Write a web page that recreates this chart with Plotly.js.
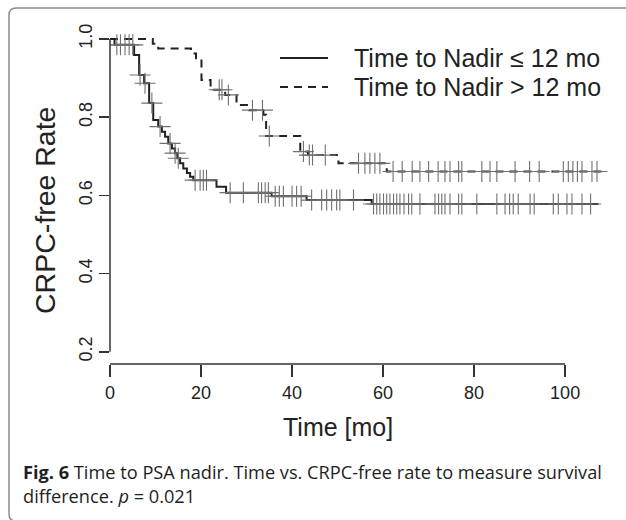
<!DOCTYPE html>
<html>
<head>
<meta charset="utf-8">
<script src="https://cdn.plot.ly/plotly-3.0.1.min.js"></script>
<style>
html,body{margin:0;padding:0;background:#fff;}
#chart{width:626px;height:520px;}
</style>
</head>
<body>
<div id="chart"></div>
<script>
// ---- Data ----
const groupNames = ["Time to Nadir \u2264 12 mo", "Time to Nadir > 12 mo"];

// Group 1: Time to Nadir <= 12 mo (solid)
const earlyEventTimes = [1.0, 5.3, 6.4, 7.5, 8.6, 9.5, 10.6, 11.4, 12.1, 12.8, 13.6, 14.3, 14.8, 15.4, 16.1, 16.9, 17.6, 18.3, 23.4, 25.5, 35.5, 43.2, 57.5];
const earlySurvival   = [0.985, 0.959, 0.908, 0.887, 0.836, 0.793, 0.776, 0.763, 0.750, 0.733, 0.720, 0.708, 0.695, 0.682, 0.669, 0.657, 0.648, 0.639, 0.622, 0.607, 0.598, 0.588, 0.578];
const earlyLastTime = 107.3;
const earlyCensored = [1.5, 2.3, 3.3, 4.2, 5.0, 6.6, 7.7, 9.2, 11.0, 13.2, 14.3, 15.0, 18.7, 19.8, 20.5, 21.2, 26.4, 29.3, 32.6, 33.3, 34.1, 34.8, 36.3, 37.2, 38.1, 40.0, 41.0, 42.0, 44.3, 46.5, 47.6, 48.7, 49.8, 50.5, 53.5, 57.9, 58.6, 59.3, 60.1, 60.8, 61.5, 62.3, 63.0, 63.7, 64.6, 65.6, 66.3, 68.1, 71.4, 72.2, 72.9, 73.6, 74.7, 76.6, 77.3, 80.6, 85.0, 86.8, 87.8, 88.6, 89.7, 92.3, 93.2, 97.4, 98.5, 100.4, 101.5, 103.7, 105.6];

// Group 2: Time to Nadir > 12 mo (dashed)
const lateEventTimes = [9.4, 10.6, 17.8, 18.9, 20.1, 22.1, 25.3, 27.8, 30.6, 33.7, 34.3, 41.8, 43.5, 50.2, 60.8];
const lateSurvival   = [0.988, 0.976, 0.963, 0.951, 0.895, 0.870, 0.857, 0.831, 0.818, 0.806, 0.752, 0.712, 0.703, 0.682, 0.661];
const lateLastTime = 108.4;
const lateCensored = [24.0, 24.6, 26.0, 31.3, 33.5, 35.0, 42.5, 43.8, 44.5, 47.3, 54.6, 56.0, 57.1, 58.2, 59.3, 62.2, 64.2, 66.4, 68.1, 70.0, 72.1, 73.6, 74.7, 76.6, 77.3, 81.7, 83.5, 85.0, 89.0, 92.2, 94.3, 99.6, 100.7, 101.7, 102.7, 103.7, 105.9, 107.0];

const xTickVals = [0, 20, 40, 60, 80, 100];
const yTickVals = [0.2, 0.4, 0.6, 0.8, 1.0];
const yTickText = ["0.2", "0.4", "0.6", "0.8", "1.0"];

// ---- Helpers ----
function stepLine(times, surv, lastTime) {
  const x = [0], y = [1];
  for (let i = 0; i < times.length; i++) { x.push(times[i]); y.push(surv[i]); }
  x.push(lastTime); y.push(surv[surv.length - 1]);
  return {x, y};
}
function survAt(times, surv, t) {
  let s = 1;
  for (let i = 0; i < times.length; i++) { if (times[i] <= t) s = surv[i]; }
  return s;
}

const early = stepLine(earlyEventTimes, earlySurvival, earlyLastTime);
const late = stepLine(lateEventTimes, lateSurvival, lateLastTime);

const lineCol = '#222222';
const markCol = '#707070';
const axisCol = '#333333';
const font = 'Liberation Sans, Arial, sans-serif';

const traces = [
  {x: early.x, y: early.y, mode: 'lines', line: {shape: 'hv', color: lineCol, width: 2}, name: groupNames[0], showlegend: false, hoverinfo: 'skip'},
  {x: late.x, y: late.y, mode: 'lines', line: {shape: 'hv', color: lineCol, width: 2, dash: '8px,6px'}, name: groupNames[1], showlegend: false, hoverinfo: 'skip'},
  {x: earlyCensored, y: earlyCensored.map(t => survAt(earlyEventTimes, earlySurvival, t)), mode: 'markers',
   marker: {symbol: 'cross-thin-open', size: 15, color: markCol, line: {color: markCol, width: 1.1}}, showlegend: false, hoverinfo: 'skip'},
  {x: lateCensored, y: lateCensored.map(t => survAt(lateEventTimes, lateSurvival, t)), mode: 'markers',
   marker: {symbol: 'cross-thin-open', size: 15, color: markCol, line: {color: markCol, width: 1.1}}, showlegend: false, hoverinfo: 'skip'}
];

// Layout geometry
const W = 626, H = 520;
const mL = 110, mR = 14, mT = 30, mB = 156;
const pw = W - mL - mR, ph = H - mT - mB;
const xMax = 110.3;
const yMin = 0.1688, yMax = 1.023;
const px = v => (v - mL) / pw;          // pixel x -> paper
const py = v => (H - mB - v) / ph;      // pixel y -> paper
const yp = v => (v - yMin) / (yMax - yMin);
const xp = v => v / xMax;

const bL = px(9), bT = py(8), bR = px(645), bB = py(521);
const rx = 7 / pw, ry = 7 / ph;
const borderPath = `M ${bR},${bT} L ${bL + rx},${bT} Q ${bL},${bT} ${bL},${bT - ry} L ${bL},${bB + ry} Q ${bL},${bB} ${bL + rx},${bB} L ${bR},${bB}`;

const shapes = [
  {type: 'path', xref: 'paper', yref: 'paper', path: borderPath, line: {color: '#8c8c8c', width: 1.5}},
  // axis lines (R style, spanning only the tick range)
  {type: 'line', xref: 'paper', yref: 'paper', x0: xp(xTickVals[0]), x1: xp(xTickVals[xTickVals.length - 1]), y0: 0, y1: 0, line: {color: axisCol, width: 1.5}},
  {type: 'line', xref: 'paper', yref: 'paper', x0: 0, x1: 0, y0: yp(yTickVals[0]), y1: yp(yTickVals[yTickVals.length - 1]), line: {color: axisCol, width: 1.5}},
  // legend samples
  {type: 'line', xref: 'paper', yref: 'paper', x0: px(280), x1: px(328), y0: py(58), y1: py(58), line: {color: lineCol, width: 2}},
  {type: 'line', xref: 'paper', yref: 'paper', x0: px(280), x1: px(328), y0: py(87), y1: py(87), line: {color: lineCol, width: 2, dash: '8px,6px'}}
];

const annotations = [
  {xref: 'paper', yref: 'paper', x: px(352), y: py(58), xanchor: 'left', yanchor: 'middle', showarrow: false, text: groupNames[0], font: {family: font, size: 25, color: '#222'}},
  {xref: 'paper', yref: 'paper', x: px(352), y: py(87), xanchor: 'left', yanchor: 'middle', showarrow: false, text: groupNames[1], font: {family: font, size: 25, color: '#222'}},
  {xref: 'paper', yref: 'paper', x: px(45), y: py(211), xanchor: 'center', yanchor: 'middle', textangle: -90, showarrow: false, text: 'CRPC-free Rate', font: {family: font, size: 28.5, color: '#222'}},
  {xref: 'paper', yref: 'paper', x: xp(50), y: py(427), xanchor: 'center', yanchor: 'middle', showarrow: false, text: 'Time [mo]', font: {family: font, size: 25, color: '#222'}},
  {xref: 'paper', yref: 'paper', x: px(21), y: py(472), xanchor: 'left', yanchor: 'middle', showarrow: false, align: 'left',
   text: '<b>Fig. 6</b> Time to PSA nadir. Time vs. CRPC-free rate to measure survival', font: {family: 'Open Sans, sans-serif', size: 18.2, color: '#1e1e1e'}},
  {xref: 'paper', yref: 'paper', x: px(21), y: py(496), xanchor: 'left', yanchor: 'middle', showarrow: false, align: 'left',
   text: 'difference. <i>p</i> = 0.021', font: {family: 'Open Sans, sans-serif', size: 18.2, color: '#1e1e1e'}}
];

const layout = {
  width: W, height: H,
  margin: {l: mL, r: mR, t: mT, b: mB, pad: 0},
  paper_bgcolor: '#fff', plot_bgcolor: '#fff',
  showlegend: false,
  xaxis: {range: [0, xMax], showgrid: false, zeroline: false, showline: false,
          tickmode: 'array', tickvals: xTickVals, ticktext: xTickVals.map(String),
          ticks: 'outside', ticklen: 12, tickwidth: 1.5, tickcolor: axisCol,
          tickfont: {family: font, size: 18, color: '#222'}},
  yaxis: {range: [yMin, yMax], showgrid: false, zeroline: false, showline: false,
          tickmode: 'array', tickvals: yTickVals, ticktext: yTickText, tickangle: -90,
          ticks: 'outside', ticklen: 10, tickwidth: 1.5, tickcolor: axisCol,
          tickfont: {family: font, size: 18, color: '#222'}},
  shapes: shapes,
  annotations: annotations
};

Plotly.newPlot('chart', traces, layout, {staticPlot: true, displayModeBar: false});
</script>
</body>
</html>
